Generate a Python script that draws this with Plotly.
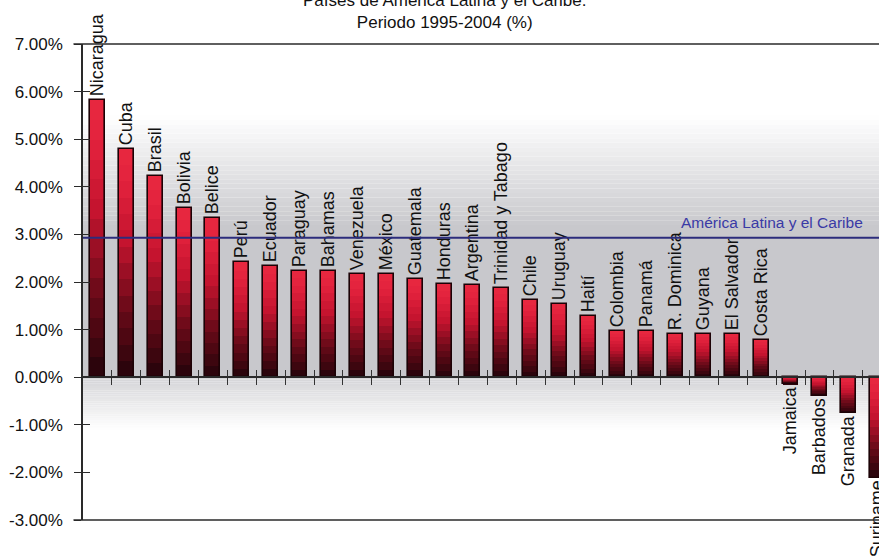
import plotly.graph_objects as go

# ---------------- data ----------------
countries = ["Nicaragua", "Cuba", "Brasil", "Bolivia", "Belice", "Perú", "Ecuador",
             "Paraguay", "Bahamas", "Venezuela", "México", "Guatemala", "Honduras",
             "Argentina", "Trinidad y Tabago", "Chile", "Uruguay", "Haití", "Colombia",
             "Panamá", "R. Dominica", "Guyana", "El Salvador", "Costa Rica", "Jamaica",
             "Barbados", "Granada", "Suriname"]
growth = [5.82, 4.80, 4.23, 3.55, 3.34, 2.41, 2.33, 2.24, 2.24, 2.17, 2.17, 2.07, 1.96,
          1.93, 1.88, 1.63, 1.54, 1.28, 0.98, 0.98, 0.91, 0.91, 0.91, 0.79, -0.15,
          -0.39, -0.76, -2.11]
region_avg = 2.93
region_label = "América Latina y el Caribe"
title_lines = ["Países de América Latina y el Caribe:", "Periodo 1995-2004 (%)"]
y_tick_values = [-3, -2, -1, 0, 1, 2, 3, 4, 5, 6, 7]
y_tick_labels = ["-3.00%", "-2.00%", "-1.00%", "0.00%", "1.00%", "2.00%",
                 "3.00%", "4.00%", "5.00%", "6.00%", "7.00%"]

FONT = "Liberation Sans, Arial, sans-serif"
n = len(countries)
xs = list(range(n))
boundaries = [i + 0.5 for i in range(n - 1)]
BAR_W = 0.52


def lerp_color(stops, f):
    f = max(0.0, min(1.0, f))
    for (f0, c0), (f1, c1) in zip(stops, stops[1:]):
        if f0 <= f <= f1:
            t = (f - f0) / (f1 - f0) if f1 > f0 else 0
            a = [int(c0[i:i + 2], 16) for i in (1, 3, 5)]
            b = [int(c1[i:i + 2], 16) for i in (1, 3, 5)]
            return "rgb(%d,%d,%d)" % tuple(round(a[j] + (b[j] - a[j]) * t) for j in range(3))
    return stops[-1][1]


bar_stops = [(0.0, "#24030a"), (0.3, "#6a0a18"), (0.6, "#c4142f"), (0.85, "#e2223d"), (1.0, "#e8283f")]

fig = go.Figure()

# gradient-filled bars built from stacked slices of each value
NSEG = 14
for k in range(NSEG):
    cols = []
    for v in growth:
        f = (k + 0.5) / NSEG
        cols.append(lerp_color(bar_stops, f if v >= 0 else 1 - f))
    fig.add_trace(go.Bar(
        x=xs, y=[v / NSEG for v in growth], base=[v * k / NSEG for v in growth],
        width=BAR_W, marker=dict(color=cols, line=dict(width=0)),
        showlegend=False, hoverinfo="skip"))

# outline + labels
fig.add_trace(go.Bar(
    x=xs, y=growth, width=BAR_W,
    marker=dict(color="rgba(0,0,0,0)", line=dict(color="#1c0206", width=1.6)),
    text=countries, textposition="outside", textangle=-90, constraintext="none",
    cliponaxis=False, textfont=dict(family=FONT, size=18, color="#111111"),
    customdata=countries, hovertemplate="%{customdata}: %{y:.2f}%<extra></extra>",
    showlegend=False))

# helper trace so the overlay axes (crossing ticks) render
fig.add_trace(go.Scatter(x=[0], y=[0], xaxis="x2", yaxis="y2", mode="markers",
                         marker=dict(opacity=0), showlegend=False, hoverinfo="skip"))

# background gradient bands (grey behind bars, fading to white)
shapes = []
top_fade, full_grey = 5.5, 3.2
steps = 24
for i in range(steps):
    y0 = full_grey + (top_fade - full_grey) * i / steps
    y1 = full_grey + (top_fade - full_grey) * (i + 1) / steps
    c = lerp_color([(0.0, "#ffffff"), (1.0, "#c9c9cd")], 1 - (i + 0.5) / steps)
    shapes.append(dict(type="rect", xref="paper", yref="y", x0=0, x1=1, y0=y0, y1=y1,
                       fillcolor=c, line=dict(width=0), layer="below"))
shapes.append(dict(type="rect", xref="paper", yref="y", x0=0, x1=1, y0=0, y1=full_grey,
                   fillcolor="#c8c8cc", line=dict(width=0), layer="below"))
bot_fade = -1.1
for i in range(steps):
    y0 = bot_fade * i / steps
    y1 = bot_fade * (i + 1) / steps
    c = lerp_color([(0.0, "#ffffff"), (1.0, "#d4d4d7")], 1 - (i + 0.5) / steps)
    shapes.append(dict(type="rect", xref="paper", yref="y", x0=0, x1=1, y0=y0, y1=y1,
                       fillcolor=c, line=dict(width=0), layer="below"))

# frame lines along top and bottom of the plotting area
for yp in (0, 1):
    shapes.append(dict(type="line", xref="paper", yref="paper", x0=-0.012, x1=1, y0=yp, y1=yp,
                       line=dict(color="#2a2a2a", width=1.5)))
# regional average line
shapes.append(dict(type="line", xref="paper", yref="y", x0=0, x1=1,
                   y0=region_avg, y1=region_avg, line=dict(color="#2c2c7c", width=2)))

zero_pos = (0 - y_tick_values[0]) / (y_tick_values[-1] - y_tick_values[0])
x_range = [-0.5, n - 0.94]
y_range = [y_tick_values[0], y_tick_values[-1]]

fig.update_layout(
    width=879, height=556,
    margin=dict(l=83, r=0, t=44, b=36),
    paper_bgcolor="white", plot_bgcolor="white",
    barmode="overlay", bargap=0,
    font=dict(family=FONT, color="#111111"),
    showlegend=False,
    shapes=shapes,
    xaxis=dict(range=x_range, tickmode="array", tickvals=boundaries, ticks="outside",
               ticklen=7, tickwidth=1, tickcolor="#333333", showticklabels=False,
               showline=True, linecolor="#2a2a2a", linewidth=1.5, showgrid=False,
               zeroline=False, anchor="free", position=zero_pos, fixedrange=True),
    xaxis2=dict(range=x_range, overlaying="x", tickmode="array", tickvals=boundaries,
                ticks="inside", ticklen=7, tickwidth=1, tickcolor="#333333",
                showticklabels=False, showline=False, showgrid=False, zeroline=False,
                anchor="free", position=zero_pos),
    yaxis=dict(range=y_range, tickmode="array", tickvals=y_tick_values, ticktext=y_tick_labels,
               ticks="outside", ticklen=7, tickwidth=1.2, tickcolor="#2a2a2a",
               showline=True, linecolor="#2a2a2a", linewidth=1.5, showgrid=False,
               zeroline=False, tickfont=dict(family=FONT, size=17, color="#111111"),
               ticklabelstandoff=8),
    yaxis2=dict(range=y_range, overlaying="y", side="left", tickmode="array",
                tickvals=y_tick_values, ticks="inside", ticklen=7, tickwidth=1.2,
                tickcolor="#2a2a2a", showticklabels=False, showline=False,
                showgrid=False, zeroline=False, anchor="x"),
    annotations=[
        dict(text="<br>".join(title_lines), xref="paper", yref="paper", x=0.454, y=1.02,
             xanchor="center", yanchor="bottom", showarrow=False,
             font=dict(family=FONT, size=17, color="#111111")),
        dict(text=region_label, xref="paper", yref="y", x=0.866, y=region_avg,
             xanchor="center", yanchor="bottom", yshift=5, showarrow=False,
             font=dict(family=FONT, size=15.5, color="#3a3aa6")),
    ],
)

fig.write_html("out.html", config={"displayModeBar": False},
               post_script="document.body.style.margin='0';document.body.style.overflow='hidden';")
